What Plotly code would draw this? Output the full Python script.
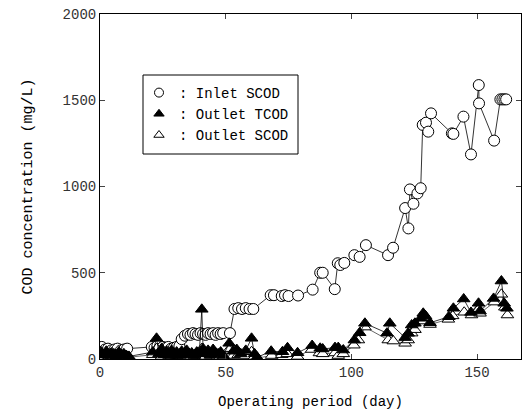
import plotly.graph_objects as go

# Inlet soluble COD (mg/L) by operating day
inlet_day = [0.7, 2, 3.2, 4.5, 5.8, 7, 8.3, 9.5, 10.8,
             20.6, 21.7, 22.8, 23.9, 25, 26.1, 27.2, 28.3, 29.4, 30.5, 31.6,
             32.5, 33.8, 35, 36, 37, 38, 39, 40, 41, 42, 43, 44, 45, 46, 47, 48, 49,
             51.7, 53.5, 55, 56.5, 58, 59.5, 61,
             67.9, 69.2, 72.3, 73.6, 75, 78.8,
             84.6, 87.6, 88.6, 93.4, 94.6, 95.6, 97.2,
             101.2, 103.3, 105.8, 114.6, 116.6,
             121.4, 122.7, 123.3, 124.7, 126.3, 127.6,
             128.4, 129.7, 130.6, 131.7, 140, 140.6, 144.6, 147.6,
             150.7, 150.8, 156.8, 159.3, 160.1, 160.9, 161.6]
inlet_cod = [70, 55, 60, 50, 55, 60, 50, 55, 60,
             70, 65, 75, 60, 70, 65, 70, 60, 65, 70, 75,
             115, 135, 145, 140, 150, 145, 140, 150, 145, 140, 150, 145, 150, 140, 150, 145, 150,
             150, 290, 295, 290, 295, 290, 290,
             370, 370, 365, 370, 365, 368,
             402, 500, 500, 405, 555, 545, 557,
             602, 592, 660, 602, 645,
             875, 757, 983, 900, 960, 990,
             1357, 1370, 1318, 1424, 1308, 1305, 1405, 1186,
             1588, 1482, 1266, 1505, 1505, 1505, 1505]

# Outlet total COD (mg/L)
tcod_day = [0.5, 1.5, 2.5, 3.5, 4.5, 5.5, 6.5, 7.5, 8.5, 9.5, 10.5, 11.5,
            21, 22.5, 23.5, 24.5, 25.5, 26.5, 27.5, 28.5, 29.5, 30.5, 31.5,
            32.5, 33.5, 34.5, 35.5, 36.5, 37.5, 38.5, 39.5, 40.5, 41, 42, 43,
            44, 45, 46, 47, 48, 49, 51.4, 53, 54.4, 56, 58, 60.3, 61.5, 62.5,
            68.1, 72.6, 74.6, 78.6, 84.4, 87.6, 88.6, 93.5, 94.8, 96.8,
            101.2, 103.3, 105.4, 114.2, 115.3,
            121.4, 122.6, 124, 125.3, 127.6, 128.6, 129.5, 131.3,
            138.8, 140.6, 144.7, 147.6, 150.6, 151.2, 156.6, 159.7, 160.8, 161.9]
tcod = [40, 25, 45, 20, 35, 30, 15, 40, 25, 30, 20, 15,
        40, 120, 30, 60, 25, 45, 20, 50, 30, 40, 20,
        45, 30, 50, 25, 35, 20, 40, 30, 288, 60, 30, 50,
        25, 55, 35, 30, 40, 20, 91, 45, 55, 30, 50, 120, 30, 10,
        45, 42, 65, 36, 78, 62, 58, 66, 66, 52,
        110, 152, 207, 150, 207,
        124, 149, 197, 207, 236, 265, 250, 210,
        245, 294, 348, 270, 323, 278, 351, 452, 323, 294]

# Outlet soluble COD (mg/L)
scod_day = [0.5, 1.5, 2.5, 3.5, 4.5, 5.5, 6.5, 7.5, 8.5, 9.5, 10.5, 11.5,
            21, 22.5, 24.5, 26.5, 28.5, 30.5, 32.5, 34.5, 36.5, 38.5, 40.5,
            42, 44, 46, 48, 49, 51.6, 53, 55, 58, 60.3, 61.5, 62.5,
            68.3, 72.3, 74.5, 78.6, 84.2, 87.3, 88.6, 93.5, 94.8, 96.8,
            101, 102.8, 105.4, 114.7, 116.7,
            121.4, 122.6, 124, 125.3, 128.6, 131.3,
            138.6, 140.3, 144.9, 147.8, 150.7, 151.2, 156.9, 159.7, 161.1, 162.1]
scod = [20, 15, 25, 10, 20, 15, 10, 25, 15, 20, 10, 10,
        25, 60, 15, 25, 15, 20, 25, 30, 15, 20, 60,
        15, 20, 25, 15, 10, 60, 20, 25, 20, 42, 15, 5,
        20, 25, 30, 15, 55, 35, 30, 35, 20, 30,
        80, 110, 185, 110, 104,
        91, 110, 150, 170, 220, 200,
        230, 250, 271, 255, 290, 265, 330, 375, 300, 255]

series_names = [": Inlet SCOD", ": Outlet TCOD", ": Outlet SCOD"]
x_ticks = [0, 50, 100, 150]
y_ticks = [0, 500, 1000, 1500, 2000]

FONT = "Liberation Mono, DejaVu Sans Mono, monospace"


def marker(symbol, fill, size=11):
    return dict(symbol=symbol, size=size, color=fill, line=dict(color="black", width=1))


fig = go.Figure()
fig.add_trace(go.Scatter(x=inlet_day, y=inlet_cod, mode="lines+markers", showlegend=False,
                         line=dict(color="black", width=0.8), marker=marker("circle", "white")))
fig.add_trace(go.Scatter(x=scod_day, y=scod, mode="lines+markers", showlegend=False,
                         line=dict(color="black", width=0.6), marker=marker("triangle-up", "white")))
fig.add_trace(go.Scatter(x=tcod_day, y=tcod, mode="lines+markers", showlegend=False,
                         line=dict(color="black", width=0.8), marker=marker("triangle-up", "black")))

# legend entries show the symbols only
legend_marks = [marker("circle", "white", 9), marker("triangle-up", "black", 9),
                marker("triangle-up", "white", 9)]
for name, mk in zip(series_names, legend_marks):
    fig.add_trace(go.Scatter(x=[None], y=[None], mode="markers", name=name, marker=mk))

# frame around the legend
fig.add_shape(type="rect", xref="paper", yref="paper",
              x0=(143 - 100) / 421, x1=(298 - 100) / 421,
              y0=(359 - 154) / 345, y1=(359 - 75) / 345,
              line=dict(color="black", width=1), fillcolor="white", layer="below")

fig.update_layout(
    width=524, height=412,
    margin=dict(l=100, r=3, t=14, b=53),
    paper_bgcolor="white", plot_bgcolor="white",
    font=dict(family=FONT, size=14, color="black"),
    showlegend=True,
    legend=dict(x=(139 - 100) / 421, y=(359 - 77) / 345, xanchor="left", yanchor="top",
                bgcolor="rgba(0,0,0,0)", borderwidth=0,
                font=dict(family=FONT, size=14), tracegroupgap=0,
                traceorder="normal"),
    xaxis=dict(range=[0, 167.5], tickvals=x_ticks, ticks="inside", ticklen=5,
               showline=True, linecolor="black", linewidth=1, mirror="ticks",
               showgrid=False, zeroline=False,
               title=dict(text="Operating period (day)", standoff=16,
                          font=dict(family=FONT, size=14)),
               tickfont=dict(family=FONT, size=14, color="#333")),
    yaxis=dict(range=[0, 2000], tickvals=y_ticks, ticks="inside", ticklen=5,
               showline=True, linecolor="black", linewidth=1, mirror="ticks",
               showgrid=False, zeroline=False,
               title=dict(text="COD concentration (mg/L)", standoff=26,
                          font=dict(family=FONT, size=15)),
               tickfont=dict(family=FONT, size=14, color="#333")),
)

fig.write_html("out.html")
